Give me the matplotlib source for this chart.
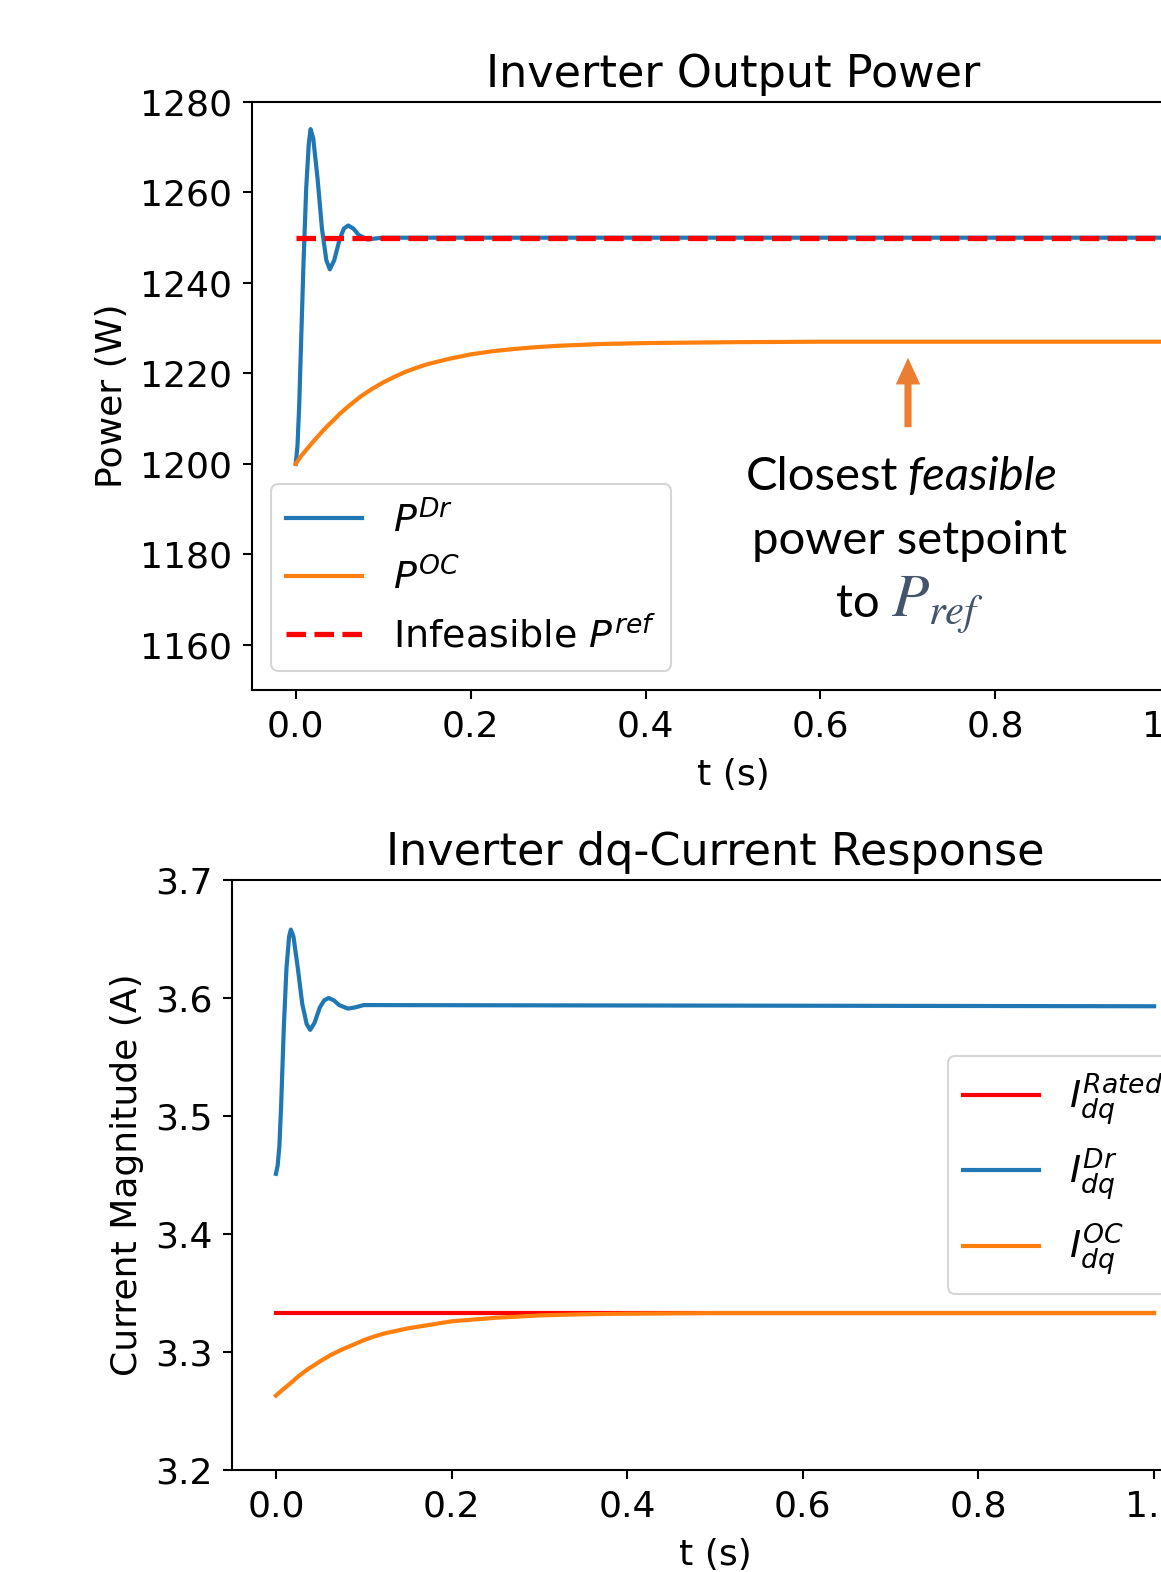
import numpy as np
import matplotlib
matplotlib.use("Agg")
import matplotlib.pyplot as plt

# --- data ---
t_dr = [0.0, 0.002, 0.004, 0.006, 0.009, 0.012, 0.015, 0.017, 0.02, 0.025, 0.03,
        0.035, 0.039, 0.044, 0.05, 0.055, 0.06, 0.066, 0.072, 0.082, 0.09, 0.1, 1.0]
p_dr = [1200, 1204, 1213, 1226, 1245, 1261, 1271, 1274, 1272, 1263, 1252,
        1245, 1243, 1245, 1249.5, 1252, 1252.7, 1252, 1250.6, 1249.6, 1249.8, 1250, 1250]

t_oc = [0.0, 0.006, 0.0125, 0.019, 0.025, 0.031, 0.0375, 0.044, 0.05, 0.0625, 0.075,
        0.0875, 0.1, 0.1125, 0.125, 0.1375, 0.15, 0.175, 0.2, 0.225, 0.25, 0.275,
        0.3, 0.35, 0.4, 0.5, 0.6, 0.8, 1.0]
p_oc = [1200, 1201.7, 1203.2, 1204.7, 1206, 1207.3, 1208.6, 1209.8, 1211, 1213.1, 1215,
        1216.6, 1218, 1219.2, 1220.3, 1221.2, 1222, 1223.2, 1224.2, 1224.9, 1225.4, 1225.8,
        1226.1, 1226.5, 1226.7, 1226.9, 1227, 1227, 1227]

t_ref = [0.0, 1.0]
p_ref = [1250, 1250]

i_dr = [3.451, 3.458, 3.475, 3.51, 3.575, 3.625, 3.652, 3.658, 3.652, 3.625, 3.595,
        3.578, 3.573, 3.579, 3.592, 3.598, 3.600, 3.598, 3.594, 3.591, 3.592, 3.594, 3.593]
i_oc = [3.263, 3.267, 3.271, 3.275, 3.279, 3.2825, 3.286, 3.289, 3.292, 3.2975, 3.302,
        3.306, 3.310, 3.3133, 3.316, 3.318, 3.320, 3.323, 3.326, 3.3275, 3.329, 3.330,
        3.331, 3.332, 3.3325, 3.333, 3.333, 3.333, 3.333]
i_rated = [3.333, 3.333]

xticks = [0.0, 0.2, 0.4, 0.6, 0.8, 1.0]
p_ticks = [1160, 1180, 1200, 1220, 1240, 1260, 1280]
i_ticks = [3.2, 3.3, 3.4, 3.5, 3.6, 3.7]

W, H = 1161, 1572
fig = plt.figure(figsize=(W / 100, H / 100), dpi=100)

def px_box(l, r, top, bot):
    return [l / W, 1 - bot / H, (r - l) / W, (bot - top) / H]

def style(ax):
    for s in ax.spines.values():
        s.set_linewidth(1.5)
    ax.tick_params(labelsize=26, length=6.7, width=1.5, pad=7.5)

# top: power
ax1 = fig.add_axes(px_box(252, 1214, 102, 690))
ax1.plot(t_dr, p_dr, color="#1f77b4", lw=3, label=r"$P^{Dr}$")
ax1.plot(t_oc, p_oc, color="#ff7f0e", lw=3, label=r"$P^{OC}$")
ax1.plot(t_ref, p_ref, "--", color="red", lw=3.8, label=r"Infeasible $P^{ref}$")
ax1.set_xlim(-0.05, 1.05)
ax1.set_ylim(1150, 1280)
ax1.set_xticks(xticks)
ax1.set_yticks(p_ticks)
ax1.set_title("Inverter Output Power", fontsize=32, pad=11)
ax1.set_xlabel("t (s)", fontsize=26, labelpad=10)
ax1.set_ylabel("Power (W)", fontsize=26, labelpad=8)
style(ax1)
leg1 = ax1.legend(loc="lower left", fontsize=27.4)
leg1.get_frame().set_linewidth(1.5)

# bottom: currents
ax2 = fig.add_axes(px_box(232, 1198, 880, 1470))
ax2.plot(t_ref, i_rated, color="red", lw=3, label=r"$I_{dq}^{Rated}$")
ax2.plot(t_dr, i_dr, color="#1f77b4", lw=3, label=r"$I_{dq}^{Dr}$")
ax2.plot(t_oc, i_oc, color="#ff7f0e", lw=3, label=r"$I_{dq}^{OC}$")
ax2.set_xlim(-0.05, 1.05)
ax2.set_ylim(3.2, 3.7)
ax2.set_xticks(xticks)
ax2.set_yticks(i_ticks)
ax2.set_title("Inverter dq-Current Response", fontsize=32, pad=11)
ax2.set_xlabel("t (s)", fontsize=26, labelpad=10)
ax2.set_ylabel("Current Magnitude (A)", fontsize=26, labelpad=8)
style(ax2)
leg2 = ax2.legend(loc="center right", fontsize=27.4)
leg2.get_frame().set_linewidth(1.5)

# annotation (slide-style text + arrow)
orange = "#ED7D31"
fig.patches.append(matplotlib.patches.FancyArrowPatch(
    (908 / W, 1 - 430 / H), (908 / W, 1 - 355 / H), transform=fig.transFigure,
    arrowstyle="simple,head_width=1.1,head_length=1.2,tail_width=0.32",
    mutation_scale=16, color=orange, lw=0))
fs = 34
fig.text(898 / W, 1 - 490 / H, "Closest", family="Lato", fontsize=fs, ha="right", va="baseline")
fig.text(907 / W, 1 - 490 / H, "feasible", family="Lato", style="italic", fontsize=fs,
         ha="left", va="baseline")
fig.text(910 / W, 1 - 554 / H, "power setpoint", family="Lato", fontsize=fs,
         ha="center", va="baseline")
fig.text(880 / W, 1 - 617 / H, "to", family="Lato", fontsize=fs, ha="right", va="baseline")
fig.text(891 / W, 1 - 617 / H, r"$P_{ref}$", math_fontfamily="stix", fontsize=44,
         color="#44546A", ha="left", va="baseline")

fig.savefig("out.png", dpi=100)
